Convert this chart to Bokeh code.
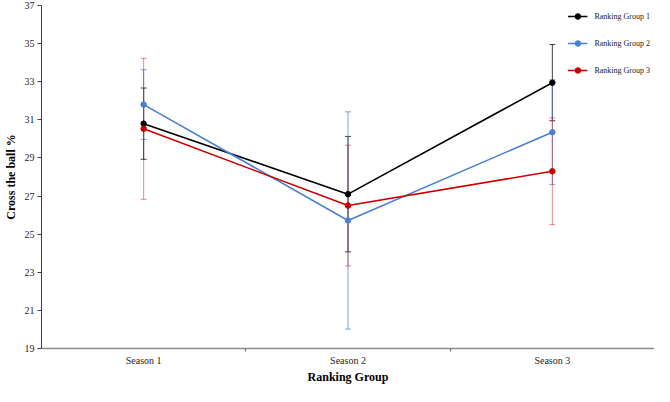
from bokeh.plotting import figure
from bokeh.models import Range1d, FixedTicker, Whisker, ColumnDataSource, Legend, LegendItem, TeeHead
from bokeh.embed import file_html
from bokeh.resources import INLINE

categories = ["Season 1", "Season 2", "Season 3"]
group_names = ["Ranking Group 1", "Ranking Group 2", "Ranking Group 3"]
g1_mean = [30.8, 27.1, 32.95]
g1_err = [1.87, 3.03, 2.0]
g2_mean = [31.8, 25.72, 30.35]
g2_err = [1.83, 5.7, 2.75]
g3_mean = [30.53, 26.5, 28.3]
g3_err = [3.7, 3.17, 2.8]
y_ticks = [19, 21, 23, 25, 27, 29, 31, 33, 35, 37]

colors = ["#000000", "#4a7fd4", "#c80000"]
err_alpha = [0.75, 0.7, 0.45]
SERIF = "Liberation Serif"

x_pos = [i + 0.5 for i in range(len(categories))]
boundaries = [i + 1.0 for i in range(len(categories) - 1)]

p = figure(width=654, height=386, output_backend="svg", toolbar_location=None,
           x_range=Range1d(0, len(categories)), y_range=Range1d(y_ticks[0], y_ticks[-1]),
           min_border_top=5, min_border_left=0, min_border_right=0, min_border_bottom=0)
p.outline_line_color = None
p.xgrid.visible = False
p.ygrid.visible = False
p.background_fill_color = "white"

# axes
xa = p.xaxis[0]
xa.ticker = FixedTicker(ticks=x_pos, minor_ticks=boundaries)
xa.major_label_overrides = {x: c for x, c in zip(x_pos, categories)}
xa.major_tick_line_color = None
xa.major_tick_out = 0
xa.major_tick_in = 0
xa.minor_tick_out = 3
xa.minor_tick_in = 0
xa.minor_tick_line_color = "#606060"
xa.axis_line_color = "#8c8c8c"
xa.axis_line_width = 1.5
xa.major_label_text_font = SERIF
xa.major_label_text_font_size = "10px"
xa.major_label_text_color = "#262626"
xa.major_label_standoff = 3
xa.axis_label = "Ranking Group"
xa.axis_label_text_font = SERIF
xa.axis_label_text_font_style = "bold"
xa.axis_label_text_font_size = "12px"
xa.axis_label_text_color = "#000000"
xa.axis_label_standoff = 1

ya = p.yaxis[0]
ya.ticker = FixedTicker(ticks=y_ticks, minor_ticks=[])
ya.major_tick_out = 4
ya.major_tick_in = 0
ya.major_tick_line_color = "#404040"
ya.axis_line_color = "#404040"
ya.major_label_text_font = SERIF
ya.major_label_text_font_size = "10px"
ya.major_label_text_color = "#262626"
ya.major_label_standoff = 3
ya.axis_label = "Cross the ball %"
ya.axis_label_text_font = SERIF
ya.axis_label_text_font_style = "bold"
ya.axis_label_text_font_size = "12px"
ya.axis_label_text_color = "#000000"
ya.axis_label_standoff = 4

means = [g1_mean, g2_mean, g3_mean]
errs = [g1_err, g2_err, g3_err]

# error bars
for m, e, c, a in zip(means, errs, colors, err_alpha):
    src = ColumnDataSource(dict(x=x_pos,
                                upper=[mi + ei for mi, ei in zip(m, e)],
                                lower=[mi - ei for mi, ei in zip(m, e)]))
    w = Whisker(source=src, base="x", upper="upper", lower="lower", dimension="height",
                line_color=c, line_alpha=a, line_width=1,
                upper_head=TeeHead(size=6, line_color=c, line_alpha=a, line_width=1),
                lower_head=TeeHead(size=6, line_color=c, line_alpha=a, line_width=1))
    w.level = "underlay"
    p.add_layout(w)

items = []
for m, c, name in zip(means, colors, group_names):
    src = ColumnDataSource(dict(x=x_pos, y=m))
    ln = p.line("x", "y", source=src, line_color=c, line_width=1.6)
    sc = p.scatter("x", "y", source=src, size=5.5, fill_color=c, line_color=c)
    items.append(LegendItem(label=name, renderers=[ln, sc]))

legend = Legend(items=items, location="top_right", border_line_color=None,
                background_fill_alpha=0, label_text_font=SERIF, label_text_font_size="8px",
                label_text_color="#1a1a1a",
                glyph_width=20, glyph_height=14, label_height=14, spacing=13,
                label_standoff=7, padding=4, margin=4)
p.add_layout(legend)

open("out.html", "w").write(file_html(p, INLINE))
